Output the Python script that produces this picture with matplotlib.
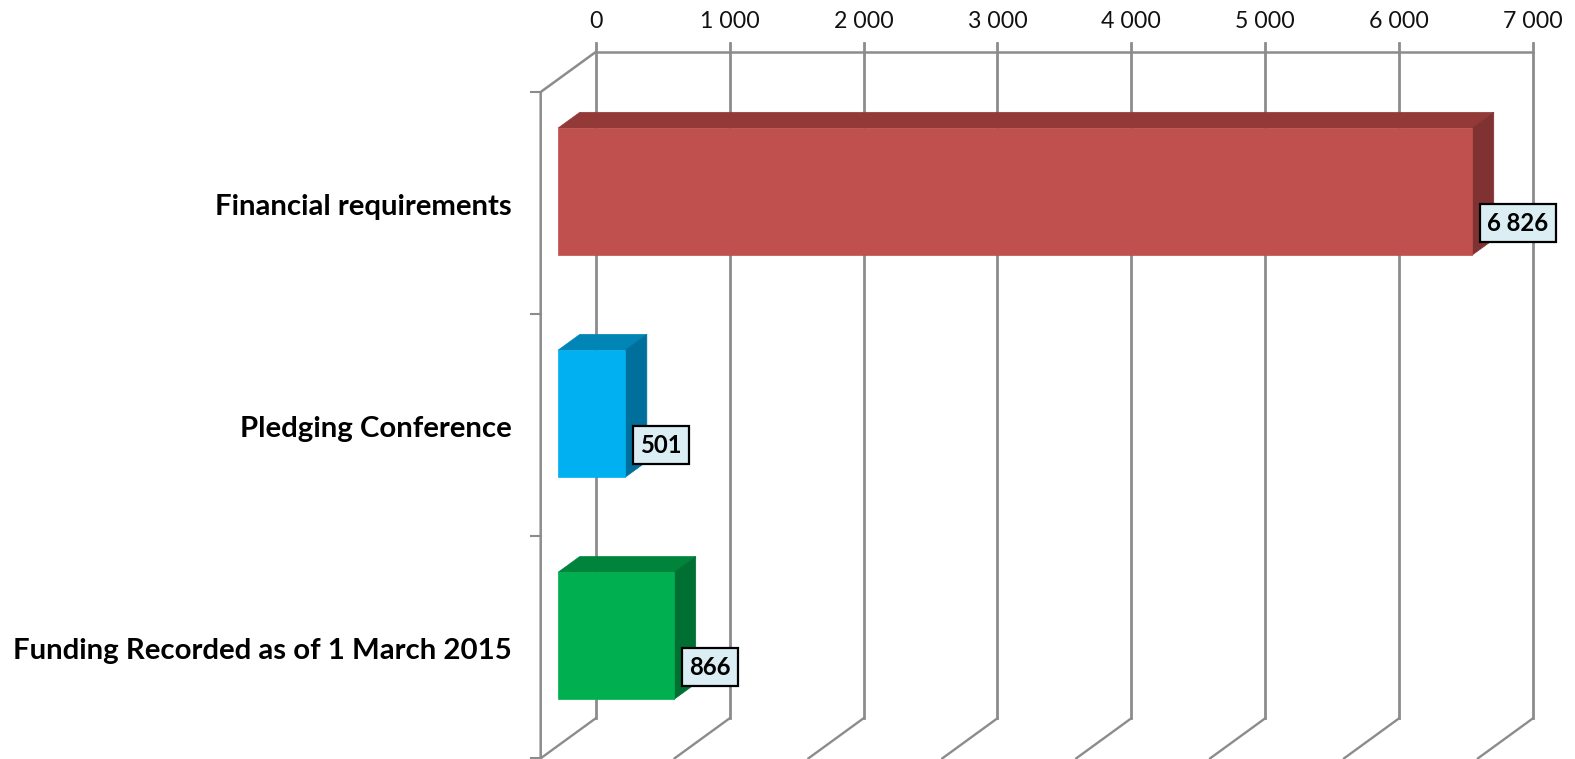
import matplotlib
matplotlib.use("Agg")
import matplotlib.pyplot as plt
from matplotlib.patches import Polygon

plt.rcParams['font.family'] = ['Lato', 'DejaVu Sans']

categories = ["Financial requirements", "Pledging Conference", "Funding Recorded as of 1 March 2015"]
values = [6826, 501, 866]
value_labels = ["6 826", "501", "866"]
x_ticks = [0, 1000, 2000, 3000, 4000, 5000, 6000, 7000]
x_tick_labels = ["0", "1 000", "2 000", "3 000", "4 000", "5 000", "6 000", "7 000"]

front_colors = ["#C0504D", "#00B0F0", "#00B050"]
top_colors = ["#933A39", "#0085B5", "#00843C"]
side_colors = ["#7F3231", "#006F9B", "#006F32"]
grid_color = "#8C8C8C"

W, H = 1575, 759
X0, X_SCALE = 595.7, 0.1339   # pixels of value 0, pixels per unit
Y0, Y_SCALE = 52.0, 222.1     # pixels of the wall top, pixels per category
DEPTH_X, DEPTH_Y = -55.0, 40.0


def proj(v, c, d=0.0):
    # oblique projection: d=0 is the back wall, d=1 the front of the floor
    return v + d * DEPTH_X / X_SCALE, c + d * DEPTH_Y / Y_SCALE


def face(points, color, z):
    ax.add_patch(Polygon([proj(*p) for p in points], closed=True, facecolor=color,
                         edgecolor=color, linewidth=0.5, zorder=z))


fig = plt.figure(figsize=(W / 100, H / 100), dpi=100)
ax = fig.add_axes([0, 0, 1, 1])
ax.set_xlim(-X0 / X_SCALE, (W - X0) / X_SCALE)
ax.set_ylim((H - Y0) / Y_SCALE, -Y0 / Y_SCALE)
ax.axis("off")

n = len(categories)

# back wall and floor
for t, lab in zip(x_ticks, x_tick_labels):
    ax.plot(*zip(proj(t, -9 / Y_SCALE), proj(t, n)), color=grid_color, lw=2.0, zorder=1)
    ax.plot(*zip(proj(t, n), proj(t, n, 1)), color=grid_color, lw=1.7, zorder=1)
    ax.text(t, -30 / Y_SCALE, lab, ha="center", va="center", fontsize=16.7, color="#111111")
ax.plot(*zip(proj(x_ticks[0], 0), proj(x_ticks[-1], 0)), color=grid_color, lw=1.8, zorder=1)

# side wall with its category ticks
ax.plot(*zip(proj(0, 0), proj(0, 0, 1), proj(0, n, 1)), color=grid_color, lw=1.8, zorder=1)
for i in range(n + 1):
    x, y = proj(0, i, 1)
    ax.plot([x - 10 / X_SCALE, x], [y, y], color=grid_color, lw=1.5, zorder=1)

bar_h = 0.572
d_back, d_front = 0.29, 0.685
for i, (name, v, lab) in enumerate(zip(categories, values, value_labels)):
    c0 = i + (1 - bar_h) / 2 + 1.2 / Y_SCALE
    c1 = c0 + bar_h
    face([(0, c0, d_front), (v, c0, d_front), (v, c0, d_back), (0, c0, d_back)], top_colors[i], 2)
    face([(v, c0, d_front), (v, c1, d_front), (v, c1, d_back), (v, c0, d_back)], side_colors[i], 2)
    face([(0, c0, d_front), (v, c0, d_front), (v, c1, d_front), (0, c1, d_front)], front_colors[i], 3)

    ax.text((512 - X0) / X_SCALE, i + 0.697, name, ha="right", va="center",
            fontsize=21.2, fontweight="bold", color="black")

    ax.annotate(lab, xy=proj(v, c1, d_front), xytext=(15, 32), textcoords="offset pixels",
                ha="left", va="center", fontsize=17.2, fontweight="bold", color="black", zorder=5,
                bbox=dict(boxstyle="square,pad=0.31", facecolor="#DBEEF4", edgecolor="black", linewidth=1.6))

fig.savefig("out.png", dpi=100)
